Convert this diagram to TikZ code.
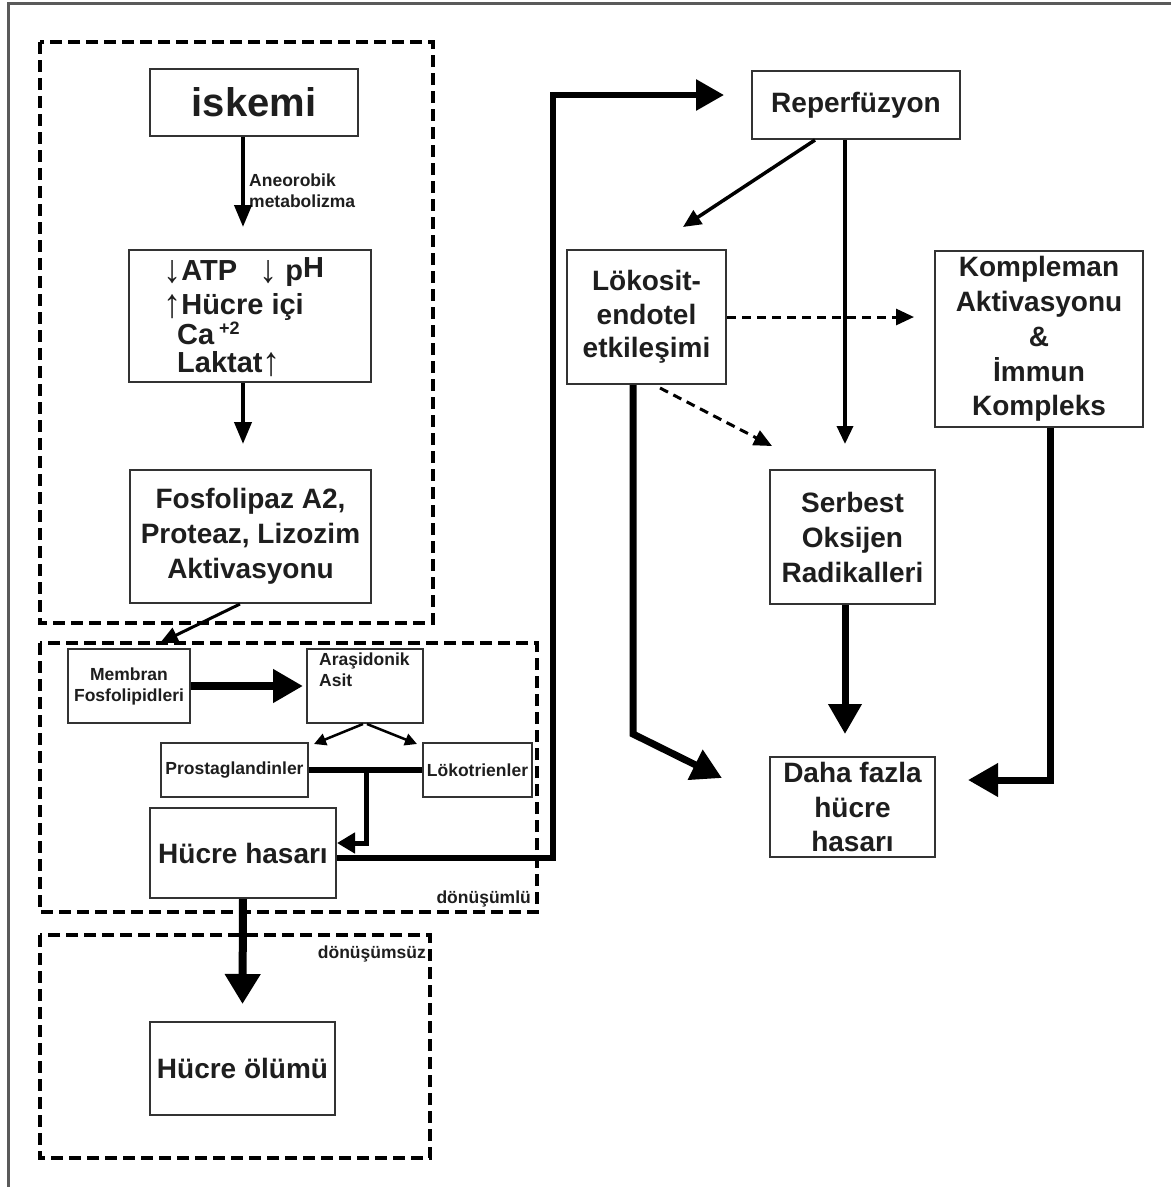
\documentclass[tikz,border=0pt]{standalone}
\usepackage{fontspec}
\setmainfont{Liberation Sans}
\usetikzlibrary{arrows.meta,calc}
\definecolor{boxc}{HTML}{333333}
\definecolor{framec}{HTML}{5A5A5A}
\definecolor{txt}{HTML}{1E1E1E}
\newcommand\fs[2]{\fontsize{#1}{#2}\selectfont\bfseries}
\newcommand\dnar{\raisebox{-2pt}{\scalebox{1.25}[1.35]{↓}}}
\newcommand\upar{\raisebox{-3pt}{\scalebox{1.25}[1.4]{↑}}}
\begin{document}
\begin{tikzpicture}[x=1pt,y=-1pt,
  box/.style={draw=boxc,line width=2pt,inner sep=0pt,align=center,text=txt},
  big/.style={font=\fs{28}{35}},
  small/.style={font=\fs{17.5}{21},text=txt},
  region/.style={draw=black,line width=4.5pt,dash pattern=on 12pt off 6pt},
  thinarr/.style={draw=black,line width=4pt,-{Triangle[length=22pt,width=17pt]}},
  slimarr/.style={draw=black,line width=3.5pt,-{Triangle[length=18pt,width=16pt]}},
  tinyarr/.style={draw=black,line width=2.5pt,-{Triangle[length=12pt,width=12pt]}},
  dasharr/.style={draw=black,line width=3pt,dash pattern=on 9pt off 6pt,-{Triangle[length=18pt,width=16pt]}},
  fatarr/.style={draw=black,line width=7pt,-{Triangle[length=30pt,width=32pt]}},
  midarr/.style={draw=black,line width=5pt,-{Triangle[length=18pt,width=20pt]}},
  atptxt/.style={anchor=base west,inner sep=0pt,font=\fs{29}{35},text=txt},
]
\useasboundingbox (0,0) rectangle (1171,1187);
\fill[white] (0,0) rectangle (1171,1187);
% frame
\draw[framec,line width=3pt] (8.5,1187) -- (8.5,3.5) -- (1171,3.5);

% dashed regions
\draw[region] (40,42) rectangle (433,623);
\draw[region] (40,643) rectangle (537,912);
\draw[region] (40,935) rectangle (430,1158);

% left column boxes
\node[box,minimum width=208pt,minimum height=67pt,font=\fs{40}{48}] (isk) at (254,102.5) {iskemi};
\node[box,minimum width=242pt,minimum height=132pt] (atp) at (250,316) {};
\node[atptxt] (atpa) at (163,280) {\dnar ATP};
\node[atptxt] (atpb) at (259,280) {\dnar\ p\raisebox{3pt}{H}};
\node[atptxt] (atpc) at (163,314) {\upar Hücre içi};
\node[atptxt] (atpd) at (177,344) {Ca\,\raisebox{10pt}{\fs{18}{20}+2}};
\node[atptxt] (atpe) at (177,372) {Laktat\upar};

\node[box,big,minimum width=241pt,minimum height=133pt] (fos) at (250.5,536.5) {Fosfolipaz A2,\\Proteaz, Lizozim\\Aktivasyonu};
\node[box,small,minimum width=122pt,minimum height=74pt] (mem) at (129,686) {Membran\\Fosfolipidleri};
\node[box,minimum width=116pt,minimum height=74pt] (ara) at (365,686) {};
\node[small,anchor=north west,align=left,inner sep=0pt] (aratxt) at (319,653) {Araşidonik\\Asit};
\node[box,small,minimum width=147pt,minimum height=54pt] (pro) at (234.5,770) {Prostaglandinler};
\node[box,small,minimum width=109pt,minimum height=54pt] (lkt) at (477.5,770) {Lökotrienler};
\node[box,big,minimum width=186pt,minimum height=90pt] (hh) at (243,853) {Hücre hasarı};
\node[box,big,minimum width=185pt,minimum height=93pt] (ol) at (242.5,1068.5) {Hücre ölümü};

\node[small,anchor=north west,align=left,inner sep=0pt] (lbl) at (249,174) {Aneorobik\\metabolizma};
\node[small,anchor=base east,inner sep=0pt] (rev) at (531,903) {dönüşümlü};
\node[small,anchor=base east,inner sep=0pt] (irr) at (426,958) {dönüşümsüz};

% right column boxes
\node[box,font=\fs{28}{32},minimum width=208pt,minimum height=68pt] (rep) at (856,105) {Reperfüzyon};
\node[box,big,minimum width=159pt,minimum height=134pt,font=\fs{28}{33.5}] (lok) at (646.5,317) {Lökosit-\\endotel\\etkileşimi};
\node[box,big,minimum width=208pt,minimum height=176pt,font=\fs{28}{34.8}] (komp) at (1039,339) {Kompleman\\Aktivasyonu\\\&\\İmmun\\Kompleks};
\node[box,big,minimum width=165pt,minimum height=134pt] (serb) at (852.5,537) {Serbest\\Oksijen\\Radikalleri};
\node[box,big,minimum width=165pt,minimum height=100pt,font=\fs{28}{34.5}] (daha) at (852.5,807) {Daha fazla\\hücre\\hasarı};

% connectors left
\draw[thinarr] ([xshift=-11pt]isk.south) -- ([xshift=-7pt,yshift=22pt]atp.north);
\draw[thinarr] ([xshift=-7pt]atp.south) -- ([xshift=-7.5pt,yshift=25pt]fos.north);
\draw[slimarr,line width=3pt] ([xshift=-10.5pt]fos.south) -- ([xshift=31pt,yshift=5pt]mem.north);
\draw[draw=black,line width=8pt,-{Triangle[length=30pt,width=32pt]},shorten >=3pt] (mem.east) -- (ara.west);
\draw[tinyarr] ([xshift=-2pt]ara.south) -- ([xshift=5pt,yshift=-2pt]pro.north east);
\draw[tinyarr] ([xshift=2pt]ara.south) -- ([xshift=-5pt,yshift=-2pt]lkt.north west);
\draw[draw=black,line width=6pt] (pro.east) -- (lkt.west);
\coordinate (j) at ($(pro.east)!0.513!(lkt.west)$);
\draw[midarr] ([yshift=3pt]j) |- ([yshift=10pt]hh.east);
\coordinate (bend) at (553,95);
\draw[draw=black,line width=6pt,-{Triangle[length=28pt,width=30pt]}] ([yshift=-5pt]hh.east) -| (bend) -- ([xshift=-27pt,yshift=10pt]rep.west);
\draw[draw=black,line width=8pt,-{Triangle[length=30pt,width=34pt]}] (hh.south) -- ([yshift=17pt]ol.north);

% connectors right
\draw[slimarr] ([xshift=-41pt]rep.south) -- ([xshift=36.5pt,yshift=22pt]lok.north);
\draw[slimarr] ([xshift=-11pt]rep.south) -- ([xshift=-7.5pt,yshift=25pt]serb.north);
\draw[dasharr,shorten >=20pt] (lok.east) -- (lok.east -| komp.west);
\draw[dasharr] ([xshift=13.5pt,yshift=-3pt]lok.south) -- ([xshift=3pt,yshift=23pt]serb.north west);
\draw[fatarr] ([xshift=-13.5pt]lok.south) -- ++(0,349) -- ([xshift=-47pt,yshift=29pt]daha.west);
\draw[fatarr] ([xshift=11pt]komp.south) |- ([xshift=32pt,yshift=27pt]daha.east);
\draw[fatarr] ([xshift=-7.5pt]serb.south) -- ([xshift=-7.5pt,yshift=22pt]daha.north);
\end{tikzpicture}
\end{document}
